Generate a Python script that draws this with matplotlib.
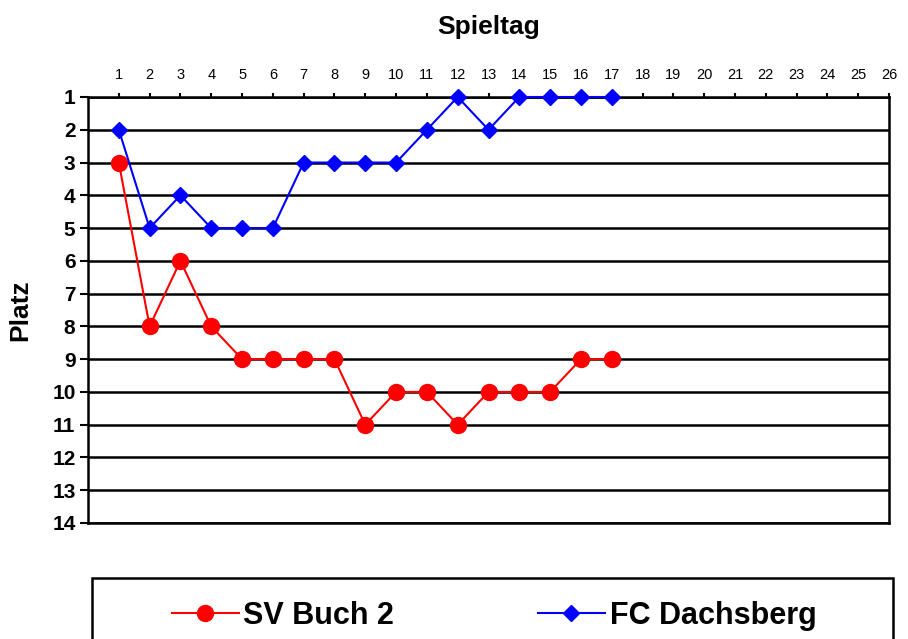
import matplotlib
matplotlib.use("Agg")
import matplotlib.pyplot as plt
from matplotlib.patches import Rectangle

plt.rcParams['font.family'] = ['Liberation Sans', 'DejaVu Sans']

spieltage = list(range(1, 18))
sv_buch = [3, 8, 6, 8, 9, 9, 9, 9, 11, 10, 10, 11, 10, 10, 10, 9, 9]
fc_dachsberg = [2, 5, 4, 5, 5, 5, 3, 3, 3, 3, 2, 1, 2, 1, 1, 1, 1]
x_ticks = list(range(1, 27))
y_ticks = list(range(1, 15))

fig = plt.figure(figsize=(9.08, 6.39), dpi=100)
ax = fig.add_axes([88/908, 1-523/639, (889-88)/908, (523-97)/639])

for y in y_ticks:
    ax.axhline(y, color='black', lw=1.8, zorder=1)

l1, = ax.plot(spieltage, sv_buch, color='#ff0000', lw=1.5, marker='o',
              markersize=11.5, markeredgecolor='#ff0000', zorder=3, label='SV Buch 2',
              clip_on=False)
l2, = ax.plot(spieltage, fc_dachsberg, color='#0000ff', lw=1.5, marker='D',
              markersize=8.2, markeredgecolor='#0000ff', zorder=4, label='FC Dachsberg',
              clip_on=False)

ax.set_xlim(0, 26)
ax.set_ylim(14, 1)
ax.xaxis.tick_top()
ax.xaxis.set_label_position('top')
ax.set_xticks(x_ticks)
ax.set_yticks(y_ticks)
ax.tick_params(axis='x', direction='out', length=3, width=1.5, labelsize=10.5, pad=8)
ax.tick_params(axis='y', direction='out', length=6, width=1.5, labelsize=15, pad=3)
for lab in ax.get_yticklabels():
    lab.set_fontweight('bold')
for s in ax.spines.values():
    s.set_linewidth(1.8)
    s.set_color('black')

ax.set_xlabel('Spieltag', fontsize=19, fontweight='bold', labelpad=24)
ax.set_ylabel('Platz', fontsize=19, fontweight='bold', labelpad=14)

fig.patches.append(Rectangle((92/908, -0.05), (893-92)/908, 0.05 + (1-578/639),
                             transform=fig.transFigure, fill=False, lw=1.8,
                             edgecolor='black'))

leg = fig.legend(handles=[l1, l2], loc='center', bbox_to_anchor=(494/908, 1-616/639),
                 ncol=2, frameon=False, prop={'size': 22, 'weight': 'bold'},
                 handlelength=2.2, handletextpad=0.15, columnspacing=4.7)

fig.savefig('out.png', dpi=100)
